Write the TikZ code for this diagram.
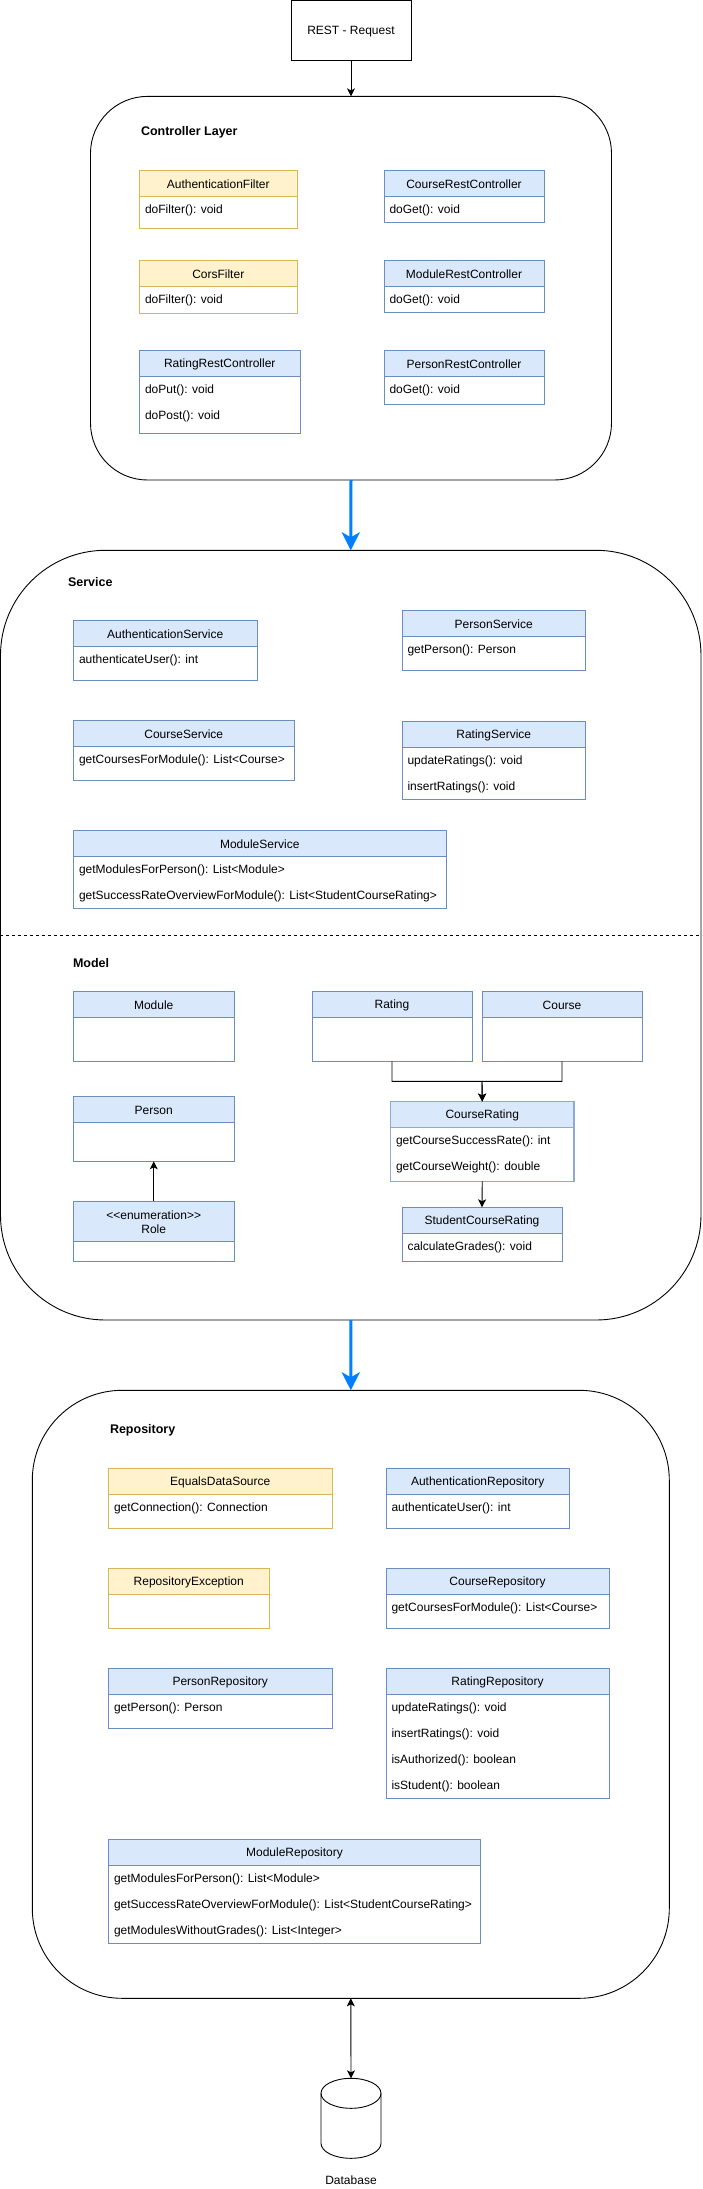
\documentclass[tikz,border=0pt]{standalone}
\usepackage{fontspec}
\setmainfont{Liberation Sans}
\usetikzlibrary{arrows.meta}
\definecolor{blueF}{HTML}{DAE8FC}
\definecolor{blueS}{HTML}{6C8EBF}
\definecolor{softS}{HTML}{8FA9D0}
\definecolor{yelF}{HTML}{FFF2CC}
\definecolor{yelS}{HTML}{D6B656}
\definecolor{flow}{HTML}{007FFF}
\tikzset{
  txt/.style={inner sep=0pt,outer sep=0pt,font=\fontsize{12}{14.5}\selectfont,align=center},
  head/.style={txt,font=\fontsize{12.5}{15}\selectfont\bfseries},
  box/.style={draw=black,line width=0.9pt,fill=white,inner sep=0pt,outer sep=0pt},
  layer/.style={box,rounded corners=#1},
  bluecls/.style={draw=blueS,fill=white,line width=0.9pt},
  softcls/.style={draw=softS,fill=white,line width=1.3pt},
  yelcls/.style={draw=yelS,fill=white,line width=0.9pt},
  blueclsH/.style={draw=blueS,fill=blueF,line width=0.9pt},
  softclsH/.style={draw=softS,fill=blueF,line width=1.3pt},
  yelclsH/.style={draw=yelS,fill=yelF,line width=0.9pt},
  conn/.style={draw=black,line width=0.9pt,-{Stealth[length=8pt,width=8pt,inset=2pt]}},
  biconn/.style={draw=black,line width=0.9pt,{Stealth[length=8pt,width=8pt,inset=2pt]}-{Stealth[length=8pt,width=8pt,inset=2pt]}},
  flowarrow/.style={draw=flow,line width=3pt,-{Stealth[length=18pt,width=18pt,inset=5pt]}},
}
% name, x1, y1, x2, y2, yheader, style, title
\newcommand{\cls}[8]{%
  \node[#7,inner sep=0pt,outer sep=0pt,minimum width={(#4-#2)*1pt},minimum height={(#5-#3)*1pt}] (#1) at ({(#2+#4)/2},{(#3+#5)/2}) {};
  \node[#7H,inner sep=0pt,outer sep=0pt,minimum width={(#4-#2)*1pt},minimum height={(#6-#3)*1pt}] (#1-h) at ({(#2+#4)/2},{(#3+#6)/2}) {};
  \node[txt] (#1-t) at ([yshift=-1pt]#1-h.center) {#8};
}
% class name, row index, text
\newcommand{\attr}[3]{%
  \node[txt,anchor=west] (#1-a#2) at ([xshift=5.5pt,yshift={(-14-26*(#2-1))*1pt}]#1-h.south west) {#3};
}
\begin{document}
\begin{tikzpicture}[x=1pt,y=-1pt]
\useasboundingbox (0,0) rectangle (702,2189);

% layers
\node[layer=57pt,minimum width=521pt,minimum height=383.6pt] (ctrl) at (351,288.2) {};
\node[layer=105pt,minimum width=700.5pt,minimum height=769.7pt] (serv) at (350.75,935.15) {};
\node[layer=90pt,minimum width=637pt,minimum height=608pt] (repo) at (350.8,1694.3) {};

% REST
\node[box,minimum width=120pt,minimum height=60pt] (rest) at (351,30.6) {};
\node[txt] (restl) at (351,31.6) {REST - Request};
\node[head,anchor=west] (tctrl) at (141,132) {Controller Layer};
\node[head,anchor=west] (tserv) at (68,582) {Service};
\node[head,anchor=west] (tmodel) at (73,963) {Model};
\node[head,anchor=west] (trepo) at (110,1430) {Repository};

% Controller
\cls{af}{139.5}{170.3}{297}{228.5}{196.4}{yelcls}{AuthenticationFilter}
\attr{af}{1}{doFilter(): void}
\cls{cf}{139.5}{260.3}{297}{313.5}{286.3}{yelcls}{CorsFilter}
\attr{cf}{1}{doFilter(): void}
\cls{rrc}{139.5}{350.2}{300}{433.4}{376.3}{bluecls}{RatingRestController}
\attr{rrc}{1}{doPut(): void}
\attr{rrc}{2}{doPost(): void}
\cls{crc}{384}{170.3}{544}{222.4}{196.4}{bluecls}{CourseRestController}
\attr{crc}{1}{doGet(): void}
\cls{mrc}{384}{260.3}{544}{312.4}{286.3}{bluecls}{ModuleRestController}
\attr{mrc}{1}{doGet(): void}
\cls{prc}{384}{350.2}{544}{404.5}{376.3}{bluecls}{PersonRestController}
\attr{prc}{1}{doGet(): void}

% Service
\cls{as}{73.5}{620.3}{257}{680.3}{646.3}{bluecls}{AuthenticationService}
\attr{as}{1}{authenticateUser(): int}
\cls{ps}{402}{610.3}{585.5}{670.3}{636.3}{bluecls}{PersonService}
\attr{ps}{1}{getPerson(): Person}
\cls{cs}{73.5}{720.3}{294}{780.3}{746.3}{bluecls}{CourseService}
\attr{cs}{1}{getCoursesForModule(): List<Course>}
\cls{rs}{402}{721.3}{585.5}{799.3}{747.3}{bluecls}{RatingService}
\attr{rs}{1}{updateRatings(): void}
\attr{rs}{2}{insertRatings(): void}
\cls{ms}{73.5}{830.3}{446}{908.3}{856.3}{bluecls}{ModuleService}
\attr{ms}{1}{getModulesForPerson(): List<Module>}
\attr{ms}{2}{getSuccessRateOverviewForModule(): List<StudentCourseRating>}

% dashed divider
\coordinate (dl) at (0,935);
\coordinate (dr) at (702,935);
\draw[black,line width=0.9pt,dash pattern=on 3pt off 3pt] (dl) -- (dr);

% Model
\cls{mod}{73.5}{991.3}{234}{1061.3}{1017.3}{bluecls}{Module}
\cls{per}{73.5}{1096.3}{234}{1161.3}{1122.3}{bluecls}{Person}
\cls{role}{73.5}{1201.3}{234}{1261.3}{1241.3}{bluecls}{<\kern0pt<enumeration>\kern0pt>\\Role}
\cls{rat}{312}{991.3}{472}{1061.3}{1017.3}{bluecls}{Rating}
\cls{cou}{482}{991.3}{642}{1061.3}{1017.3}{bluecls}{Course}
\cls{cr}{390.5}{1101.5}{574}{1181.3}{1127.5}{softcls}{CourseRating}
\attr{cr}{1}{getCourseSuccessRate(): int}
\attr{cr}{2}{getCourseWeight(): double}
\cls{scr}{402}{1207.3}{562}{1261.3}{1233.3}{bluecls}{StudentCourseRating}
\attr{scr}{1}{calculateGrades(): void}

% Repository
\cls{eds}{108.5}{1468.3}{332}{1528.3}{1494.3}{yelcls}{EqualsDataSource}
\attr{eds}{1}{getConnection(): Connection}
\cls{re}{108.5}{1568.3}{269}{1628.3}{1594.3}{yelcls}{RepositoryException}
\cls{pr}{108.5}{1668.3}{332}{1728.3}{1694.3}{bluecls}{PersonRepository}
\attr{pr}{1}{getPerson(): Person}
\cls{ar}{386}{1468.3}{569.5}{1528.3}{1494.3}{bluecls}{AuthenticationRepository}
\attr{ar}{1}{authenticateUser(): int}
\cls{cor}{386}{1568.3}{609}{1628.3}{1594.3}{bluecls}{CourseRepository}
\attr{cor}{1}{getCoursesForModule(): List<Course>}
\cls{rr}{386}{1668.3}{609}{1798.3}{1694.3}{bluecls}{RatingRepository}
\attr{rr}{1}{updateRatings(): void}
\attr{rr}{2}{insertRatings(): void}
\attr{rr}{3}{isAuthorized(): boolean}
\attr{rr}{4}{isStudent(): boolean}
\cls{mr}{108.5}{1839.3}{480.5}{1943.3}{1865.3}{bluecls}{ModuleRepository}
\attr{mr}{1}{getModulesForPerson(): List<Module>}
\attr{mr}{2}{getSuccessRateOverviewForModule(): List<StudentCourseRating>}
\attr{mr}{3}{getModulesWithoutGrades(): List<Integer>}

% Database cylinder
\node[inner sep=0pt,outer sep=0pt,minimum width=60pt,minimum height=80pt] (db) at (351,2118.3) {};
\draw[black,line width=0.9pt,fill=white]
  (db.north west) ++(0,15) arc[start angle=180,end angle=0,x radius=30pt,y radius=15pt]
  -- ++(0,50) arc[start angle=0,end angle=-180,x radius=30pt,y radius=15pt] -- cycle;
\draw[black,line width=0.9pt]
  (db.north west) ++(0,15) arc[start angle=180,end angle=360,x radius=30pt,y radius=15pt];
\node[txt] (dbl) at (351,2179.7) {Database};

% connectors
\draw[conn] (rest.south) -- (ctrl.north);
\draw[flowarrow] (ctrl.south) -- (serv.north);
\draw[flowarrow] (serv.south) -- (repo.north);
\draw[biconn] (repo.south) -- (db.north);
\draw[conn] (role.north) -- (per.south);
\coordinate (mid) at (482,1081.3);
\draw[conn] (rat.south) |- (mid) -- (cr.north);
\draw[conn] (cou.south) |- (mid) -- (cr.north);
\draw[conn] (cr.south) -- (scr.north);
\end{tikzpicture}
\end{document}
